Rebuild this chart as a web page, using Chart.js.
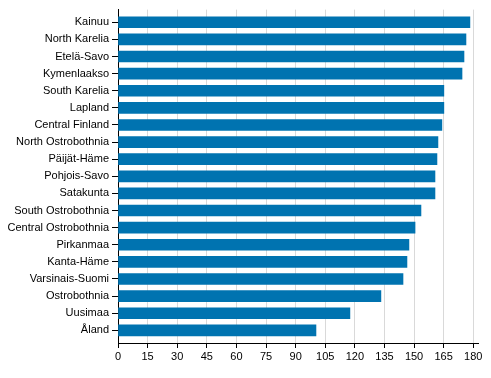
<!DOCTYPE html>
<html>
<head>
<meta charset="utf-8">
<script src="https://cdn.jsdelivr.net/npm/chart.js@4"></script>
<style>
html,body{margin:0;padding:0;background:#fff;}
#wrap{width:491px;height:378px;position:relative;}
</style>
</head>
<body>
<div id="wrap"><canvas id="c" width="491" height="378"></canvas></div>
<script>
const categories = ["Kainuu","North Karelia","Etelä-Savo","Kymenlaakso","South Karelia","Lapland","Central Finland","North Ostrobothnia","Päijät-Häme","Pohjois-Savo","Satakunta","South Ostrobothnia","Central Ostrobothnia","Pirkanmaa","Kanta-Häme","Varsinais-Suomi","Ostrobothnia","Uusimaa","Åland"];
const values = [178.3,176.3,175.3,174.3,165.1,165.1,164.1,162.1,161.6,160.6,160.6,153.5,150.5,147.4,146.4,144.4,133.2,117.5,100.3];
const xTicks = [0,15,30,45,60,75,90,105,120,135,150,165,180];

const FONT = {family: "'Liberation Sans', Arial, sans-serif", size: 11};

new Chart(document.getElementById('c'), {
  type: 'bar',
  data: {
    labels: categories,
    datasets: [{
      data: values,
      backgroundColor: '#0073b0',
      borderWidth: 0,
      barThickness: 11
    }]
  },
  options: {
    indexAxis: 'y',
    responsive: false,
    animation: false,
    devicePixelRatio: 1,
    layout: {padding: {top: 8, right: 13, bottom: 0, left: 0}},
    plugins: {legend: {display: false}, tooltip: {enabled: false}},
    scales: {
      x: {
        type: 'linear',
        min: 0,
        max: 182.4,
        afterBuildTicks: (s) => { s.ticks = xTicks.map(v => ({value: v})); },
        afterFit: (s) => { s.height = 35; },
        grid: {
          color: (ctx) => ctx.tick && ctx.tick.value === 0 ? 'rgba(0,0,0,0)' : '#d9d9d9',
          lineWidth: 1,
          drawTicks: true,
          tickLength: 5,
          tickColor: '#000'
        },
        border: {display: true, color: '#000', width: 1},
        ticks: {color: '#000', font: FONT, padding: 2, maxRotation: 0, autoSkip: false}
      },
      y: {
        type: 'category',
        afterFit: (s) => { s.width = 118; },
        afterBuildTicks: (s) => {
          s._startValue -= 0.24;
          s._valueRange += 0.48;
        },
        grid: {
          display: true,
          offset: false,
          drawOnChartArea: false,
          drawTicks: true,
          tickLength: 6,
          tickColor: '#000'
        },
        border: {display: true, color: '#000', width: 1},
        ticks: {color: '#000', font: FONT, padding: 3, autoSkip: false}
      }
    }
  }
});
</script>
</body>
</html>
